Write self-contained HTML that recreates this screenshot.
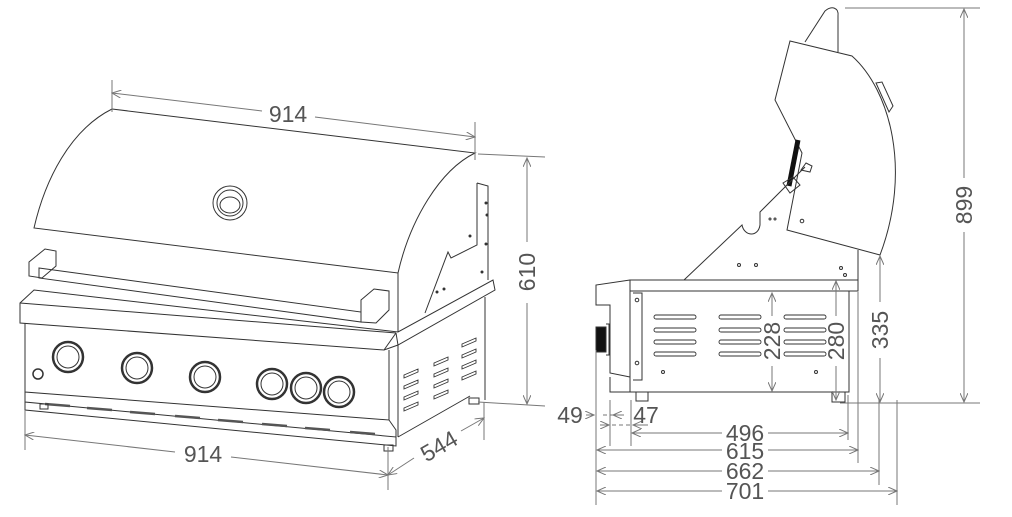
<!DOCTYPE html>
<html><head><meta charset="utf-8"><style>
html,body{margin:0;padding:0;background:#fff}
svg{display:block}
text{font-family:"Liberation Sans",sans-serif;fill:#555;font-size:23px}
</style></head><body>
<svg width="1012" height="517" viewBox="0 0 1012 517" xmlns="http://www.w3.org/2000/svg">
<defs>
<marker id="a" markerWidth="10" markerHeight="8" refX="9" refY="4" orient="auto-start-reverse" markerUnits="userSpaceOnUse"><path d="M0,0 L9,4 L0,8" fill="none" stroke="#777" stroke-width="1"/></marker>
</defs>
<g fill="none" stroke="#333" stroke-width="1">
<path d="M112,109 L475,153 C440,170 410,220 398,273 L34,228 C45,180 70,130 112,109 Z" fill="#fff"/>
<line x1="398" y1="273" x2="398" y2="335"/>
<circle cx="230" cy="203" r="17"/><circle cx="230" cy="203" r="13"/>
<ellipse cx="230" cy="205" rx="10" ry="8"/>
<path d="M39,268 L361,312 L361,322 L39,278 Z"/>
<path d="M29,262 L45,249 L56,251 L56,266 L42,278 L29,276 Z"/>
<path d="M361,300 L374,289 L389,291 L389,310 L376,323 L361,322 Z"/>
<path d="M477,183 L488,186 L488,280 M477,183 L477,245 L451,258 L448,252 L425,313"/>
<circle cx="486" cy="203" r="1" fill="#333"/><circle cx="487" cy="215" r="1" fill="#333"/><circle cx="470" cy="236" r="1" fill="#333"/><circle cx="486" cy="244" r="1" fill="#333"/><circle cx="482" cy="272" r="1" fill="#333"/><circle cx="444" cy="289" r="1" fill="#333"/><circle cx="437" cy="292" r="1" fill="#333"/>
<path d="M20,303 L34,290 L398,332 L493,280 L495,290 L398,345 L384,350 L20,323 Z" fill="#fff"/>
<line x1="20" y1="303" x2="396" y2="333"/>
<line x1="384" y1="350" x2="396" y2="333"/>
<line x1="396" y1="333" x2="398" y2="345"/>
<path d="M398,345 L398,437 M485,297 L485,400 M398,437 L470,396"/>
<g stroke-width="0.9">
<path d="M404,375 l14,-6 l0,3 l-14,6 z M404,386 l14,-6 l0,3 l-14,6 z M404,397 l14,-6 l0,3 l-14,6 z M404,408 l14,-6 l0,3 l-14,6 z"/>
<path d="M434,363 l14,-6 l0,3 l-14,6 z M434,374 l14,-6 l0,3 l-14,6 z M434,385 l14,-6 l0,3 l-14,6 z M434,396 l14,-6 l0,3 l-14,6 z"/>
<path d="M462,344 l14,-6 l0,3 l-14,6 z M462,355 l14,-6 l0,3 l-14,6 z M462,366 l14,-6 l0,3 l-14,6 z M462,377 l14,-6 l0,3 l-14,6 z"/>
</g>
<path d="M25,323 L25,392 L389,420 L389,350"/>
<path d="M25,392 L25,402 L396,437 L396,430 L389,420"/>
<path d="M25,402 L25,410 L396,446 L396,437"/>
<g stroke-width="2.5" stroke="#555">
<line x1="45" y1="404" x2="70" y2="406"/><line x1="87" y1="408" x2="112" y2="410"/><line x1="130" y1="412" x2="155" y2="414"/><line x1="175" y1="416" x2="200" y2="418"/><line x1="218" y1="420" x2="243" y2="422"/><line x1="262" y1="424" x2="287" y2="426"/><line x1="305" y1="428" x2="330" y2="430"/><line x1="350" y1="432" x2="375" y2="434"/>
</g>
<g fill="#fff">
<circle cx="68" cy="357" r="15" stroke-width="2.5"/><circle cx="68" cy="357" r="11"/>
<circle cx="137" cy="368" r="15" stroke-width="2.5"/><circle cx="137" cy="368" r="11"/>
<circle cx="205" cy="377" r="15" stroke-width="2.5"/><circle cx="205" cy="377" r="11"/>
<circle cx="272" cy="384" r="15" stroke-width="2.5"/><circle cx="272" cy="384" r="11"/>
<circle cx="306" cy="388" r="15" stroke-width="2.5"/><circle cx="306" cy="388" r="11"/>
<circle cx="339" cy="392" r="15" stroke-width="2.5"/><circle cx="339" cy="392" r="11"/>
<circle cx="38" cy="374" r="5" stroke-width="1.5"/>
</g>
<path d="M40,404 l8,0 l0,5 l-8,0z M384,445 l9,0 l0,6 l-9,0z M469,398 l10,0 l0,6 l-10,0z"/>
<path d="M790,41 L852,56 C890,90 912,170 880,255 L787,230 L802,153 L775,100 Z" fill="#fff"/>
<path d="M805,42 L825,11 C832,5 839,8 838,16 L838,52"/>
<path d="M876,83 L882,82 L893,106 L889,112 Z"/>
<line x1="789" y1="186" x2="798" y2="140" stroke="#111" stroke-width="5"/>
<path d="M684,280 L742,225 C744,236 758,238 760,225 L760,212 L805,167"/>
<path d="M783,183 L793,177 L800,185 L790,193 Z"/>
<path d="M806,163 L812,166 L810,172 L801,170 Z"/>
<circle cx="802" cy="221" r="1.8"/><circle cx="770" cy="219" r="1"/><circle cx="775" cy="219" r="1"/>
<circle cx="739" cy="265" r="1.5"/><circle cx="756" cy="265" r="1.5"/><circle cx="841" cy="268" r="1.5"/><circle cx="845" cy="275" r="1.5"/>
<path d="M858,250 L858,281"/>
<path d="M630,280 L858,280 L858,291 L630,291 Z" fill="#fff"/>
<path d="M630,291 L630,392 L849,392 L849,291"/>
<path d="M633,293 L642,293 L642,380 L633,380"/>
<circle cx="637" cy="300" r="1.8"/><circle cx="637" cy="363" r="1.8"/><circle cx="663" cy="372" r="1.5"/><circle cx="816" cy="372" r="1.5"/>
<path d="M630,280 L596,285 L596,305 L610,305 L610,373 L630,377 M610,377 L610,392 L630,392"/>
<rect x="596" y="327" width="10" height="25" fill="#111"/>
<path d="M606,324 L609,324 L609,355 L606,355"/>
<path d="M636,392 L636,401 L648,401 L648,392 M832,392 L832,402 L845,402 L845,392"/>
<g stroke-width="0.9">
<rect x="654" y="315" width="42" height="4" rx="2"/><rect x="654" y="328" width="42" height="4" rx="2"/><rect x="654" y="340" width="42" height="4" rx="2"/><rect x="654" y="352" width="42" height="4" rx="2"/>
<rect x="719" y="315" width="42" height="4" rx="2"/><rect x="719" y="328" width="42" height="4" rx="2"/><rect x="719" y="340" width="42" height="4" rx="2"/><rect x="719" y="352" width="42" height="4" rx="2"/>
<rect x="784" y="315" width="42" height="4" rx="2"/><rect x="784" y="328" width="42" height="4" rx="2"/><rect x="784" y="340" width="42" height="4" rx="2"/><rect x="784" y="352" width="42" height="4" rx="2"/>
</g>
</g>
<g stroke="#777" stroke-width="1" fill="none">
<line x1="112" y1="80" x2="112" y2="112"/><line x1="475" y1="122" x2="475" y2="160"/>
<line x1="112" y1="93" x2="262" y2="111" marker-start="url(#a)"/><line x1="315" y1="117" x2="475" y2="137" marker-end="url(#a)"/>
<line x1="478" y1="154" x2="545" y2="157"/><line x1="478" y1="402" x2="545" y2="406"/>
<line x1="527" y1="158" x2="527" y2="242" marker-start="url(#a)"/><line x1="527" y1="303" x2="527" y2="404" marker-end="url(#a)"/>
<line x1="25" y1="410" x2="25" y2="450"/><line x1="388" y1="447" x2="388" y2="490"/><line x1="484" y1="402" x2="484" y2="440"/>
<line x1="25" y1="435" x2="175" y2="452" marker-start="url(#a)"/><line x1="231" y1="457" x2="388" y2="475" marker-end="url(#a)"/>
<line x1="388" y1="475" x2="414" y2="458" marker-start="url(#a)"/><line x1="461" y1="431" x2="484" y2="418" marker-end="url(#a)"/>
<line x1="845" y1="8" x2="980" y2="8"/><line x1="840" y1="403" x2="980" y2="403"/>
<line x1="964" y1="9" x2="964" y2="178" marker-start="url(#a)"/><line x1="964" y1="232" x2="964" y2="402" marker-end="url(#a)"/>
<line x1="880" y1="256" x2="880" y2="302" marker-start="url(#a)"/><line x1="880" y1="358" x2="880" y2="402" marker-end="url(#a)"/>
<line x1="836" y1="281" x2="836" y2="316" marker-start="url(#a)"/><line x1="836" y1="366" x2="836" y2="400" marker-end="url(#a)"/>
<line x1="772" y1="293" x2="772" y2="316" marker-start="url(#a)"/><line x1="772" y1="366" x2="772" y2="391" marker-end="url(#a)"/>
<line x1="596" y1="350" x2="596" y2="505"/><line x1="610" y1="400" x2="610" y2="446"/><line x1="631" y1="400" x2="631" y2="446"/>
<line x1="848" y1="395" x2="848" y2="440"/><line x1="858" y1="292" x2="858" y2="463"/><line x1="879" y1="400" x2="879" y2="485"/><line x1="897" y1="400" x2="897" y2="505"/>
<line x1="586" y1="415" x2="594" y2="415" marker-end="url(#a)"/><line x1="603" y1="415" x2="622" y2="415" stroke-dasharray="4,3"/><line x1="624" y1="415" x2="613" y2="415" marker-end="url(#a)"/>
<line x1="600" y1="425" x2="609" y2="425" marker-end="url(#a)"/><line x1="612" y1="425" x2="645" y2="425" stroke-dasharray="4,3"/><line x1="648" y1="425" x2="633" y2="425" marker-end="url(#a)"/>
<line x1="632" y1="433" x2="722" y2="433" marker-start="url(#a)"/><line x1="768" y1="433" x2="848" y2="433" marker-end="url(#a)"/>
<line x1="597" y1="450" x2="722" y2="450" marker-start="url(#a)"/><line x1="768" y1="450" x2="858" y2="450" marker-end="url(#a)"/>
<line x1="597" y1="471" x2="722" y2="471" marker-start="url(#a)"/><line x1="768" y1="471" x2="879" y2="471" marker-end="url(#a)"/>
<line x1="597" y1="491" x2="722" y2="491" marker-start="url(#a)"/><line x1="768" y1="491" x2="897" y2="491" marker-end="url(#a)"/>
</g>
<g>
<text x="288" y="122" text-anchor="middle">914</text>
<text x="203" y="462" text-anchor="middle">914</text>
<text transform="translate(535,272) rotate(-90)" text-anchor="middle">610</text>
<text transform="translate(443,453) rotate(-30)" text-anchor="middle">544</text>
<text transform="translate(972,205) rotate(-90)" text-anchor="middle">899</text>
<text transform="translate(888,330) rotate(-90)" text-anchor="middle">335</text>
<text transform="translate(844,341) rotate(-90)" text-anchor="middle">280</text>
<text transform="translate(780,341) rotate(-90)" text-anchor="middle">228</text>
<text x="570" y="423" text-anchor="middle">49</text>
<text x="646" y="423" text-anchor="middle">47</text>
<text x="745" y="441" text-anchor="middle">496</text>
<text x="745" y="459" text-anchor="middle">615</text>
<text x="745" y="479" text-anchor="middle">662</text>
<text x="745" y="499" text-anchor="middle">701</text>
</g>
</svg>
</body></html>
